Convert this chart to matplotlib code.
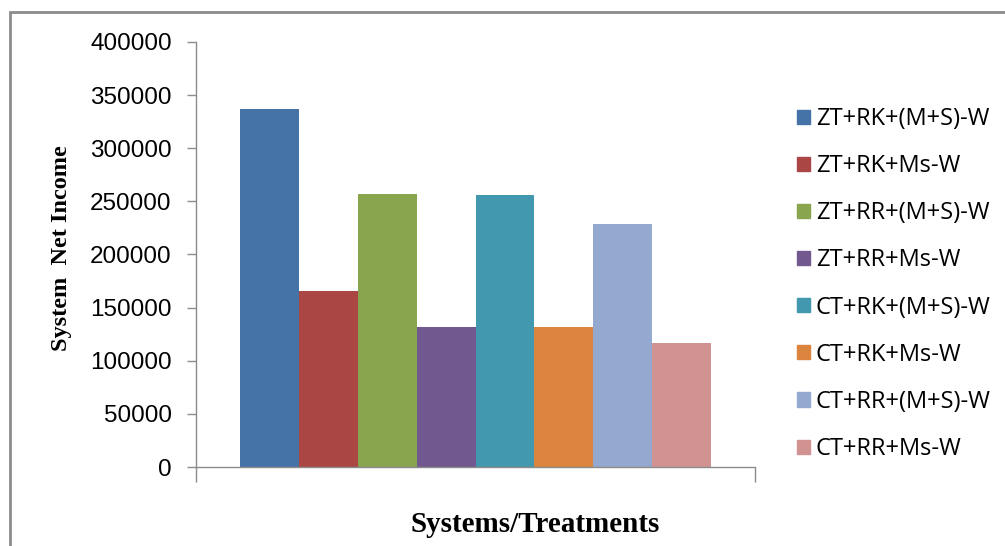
import matplotlib
matplotlib.use("Agg")
import matplotlib.pyplot as plt
from matplotlib.patches import Rectangle
import numpy as np

# treatments and net income
treatments = ['ZT+RK+(M+S)-W', 'ZT+RK+Ms-W', 'ZT+RR+(M+S)-W', 'ZT+RR+Ms-W',
              'CT+RK+(M+S)-W', 'CT+RK+Ms-W', 'CT+RR+(M+S)-W', 'CT+RR+Ms-W']
net_income = [337000, 166000, 257000, 132000, 256000, 132000, 229000, 117000]
colors = ['#4572A7', '#AA4643', '#89A54E', '#71588F',
          '#4198AF', '#DB843D', '#93A9CF', '#D19392']
yticks = [0, 50000, 100000, 150000, 200000, 250000, 300000, 350000, 400000]

fig = plt.figure(figsize=(10.05, 5.46), dpi=100)
fig.patches.append(Rectangle((10 / 1005, -0.05), 1.2, 1 - 12 / 546 + 0.05,
                             transform=fig.transFigure, fill=False,
                             edgecolor='#8c8c8c', linewidth=2))

ax = fig.add_axes([196 / 1005, 1 - 467 / 546, (755 - 196) / 1005, (467 - 42) / 546])

n = len(net_income)
w = 0.844 / n
x = -0.422 + w * (np.arange(n) + 0.5)
bars = ax.bar(x, net_income, width=w, color=colors, edgecolor='none', label=treatments)

ax.set_xlim(-0.5, 0.5)
ax.set_ylim(0, 400000)
ax.set_yticks(yticks)
ax.set_yticklabels([str(v) for v in yticks], fontfamily='Liberation Sans', fontsize=17.5)
ax.set_xticks([-0.5, 0.5])
ax.set_xticklabels(['', ''])
ax.tick_params(axis='y', direction='out', length=6.5, width=1, color='#8c8c8c', pad=11)
ax.tick_params(axis='x', direction='out', length=11, width=1, color='#8c8c8c')
for s in ['top', 'right']:
    ax.spines[s].set_visible(False)
for s in ['left', 'bottom']:
    ax.spines[s].set_color('#8c8c8c')
    ax.spines[s].set_linewidth(1)
ax.spines['bottom'].set_bounds(-0.5, 0.5)

fig.text(62 / 1005, 1 - 248 / 546, 'System  Net Income', rotation=90, ha='center', va='center',
         fontfamily='Liberation Serif', fontweight='bold', fontsize=17.5)
fig.text(535 / 1005, 1 - 525 / 546, 'Systems/Treatments', ha='center', va='center',
         fontfamily='Liberation Serif', fontweight='bold', fontsize=21)

handles = [Rectangle((0, 0), 1, 1, color=c) for c in colors]
fig.legend(handles, treatments, loc='upper left', bbox_to_anchor=(797 / 1005, 1 - 107 / 546),
           frameon=False, prop={'family': 'Open Sans', 'size': 17},
           handlelength=0.55, handleheight=0.55, handletextpad=0.25, labelspacing=0.98,
           borderaxespad=0, borderpad=0)

fig.savefig('out.png', dpi=100)
